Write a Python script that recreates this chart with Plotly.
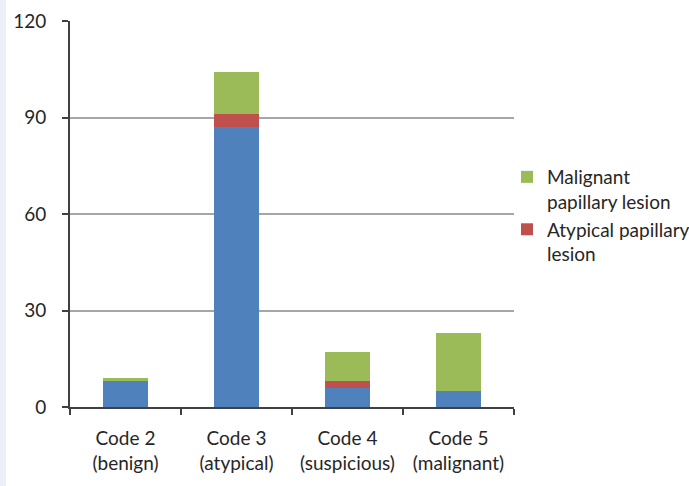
import plotly.graph_objects as go

categories = ["Code 2<br>(benign)", "Code 3<br>(atypical)", "Code 4<br>(suspicious)", "Code 5<br>(malignant)"]
benign = [8, 87, 6, 5]
atypical = [0, 4, 2, 0]
malignant = [1, 13, 9, 18]
y_ticks = [0, 30, 60, 90, 120]

font_family = "Lato, 'Open Sans', sans-serif"
text_color = "#262626"

fig = go.Figure()
fig.add_trace(go.Bar(x=categories, y=benign, name="Benign papillary lesion",
                     marker=dict(color="#4f81bd", line=dict(width=0)), showlegend=False))
fig.add_trace(go.Bar(x=categories, y=atypical, name="Atypical papillary<br>lesion",
                     marker=dict(color="#c0504d", line=dict(width=0))))
fig.add_trace(go.Bar(x=categories, y=malignant, name="Malignant<br>papillary lesion",
                     marker=dict(color="#9bbb59", line=dict(width=0))))

plot_left, plot_right = 70, 514
plot_w = plot_right - plot_left

fig.update_layout(
    width=689, height=486,
    margin=dict(l=plot_left, r=689 - plot_right, t=21, b=79, autoexpand=False),
    barmode="stack", bargap=0.6,
    paper_bgcolor="white", plot_bgcolor="white",
    font=dict(family=font_family, size=19, color=text_color),
    legend=dict(x=(507 - plot_left) / plot_w, y=0.645, xanchor="left", yanchor="top",
                traceorder="reversed", font=dict(size=19, color=text_color),
                itemwidth=30, tracegroupgap=0, valign="top", bgcolor="rgba(0,0,0,0)"),
    xaxis=dict(showline=True, linecolor="#404040", linewidth=2,
               ticks="outside", tickson="boundaries", ticklen=6, tickwidth=2,
               tickcolor="#404040", showgrid=False, ticklabelstandoff=13),
    yaxis=dict(range=[0, 120], tickvals=y_ticks, showline=True, linecolor="#404040",
               linewidth=2, ticks="outside", ticklen=6, tickwidth=2, tickcolor="#404040",
               showgrid=True, gridcolor="#a6a6a6", gridwidth=1.5, zeroline=False,
               ticklabelstandoff=12),
    shapes=[dict(type="rect", xref="paper", yref="paper",
                 x0=-plot_left / plot_w, x1=(6 - plot_left) / plot_w,
                 y0=-79 / 386, y1=1 + 21 / 386,
                 fillcolor="#eef0f7", line=dict(width=0), layer="below")],
)

fig.write_html("out.html")
